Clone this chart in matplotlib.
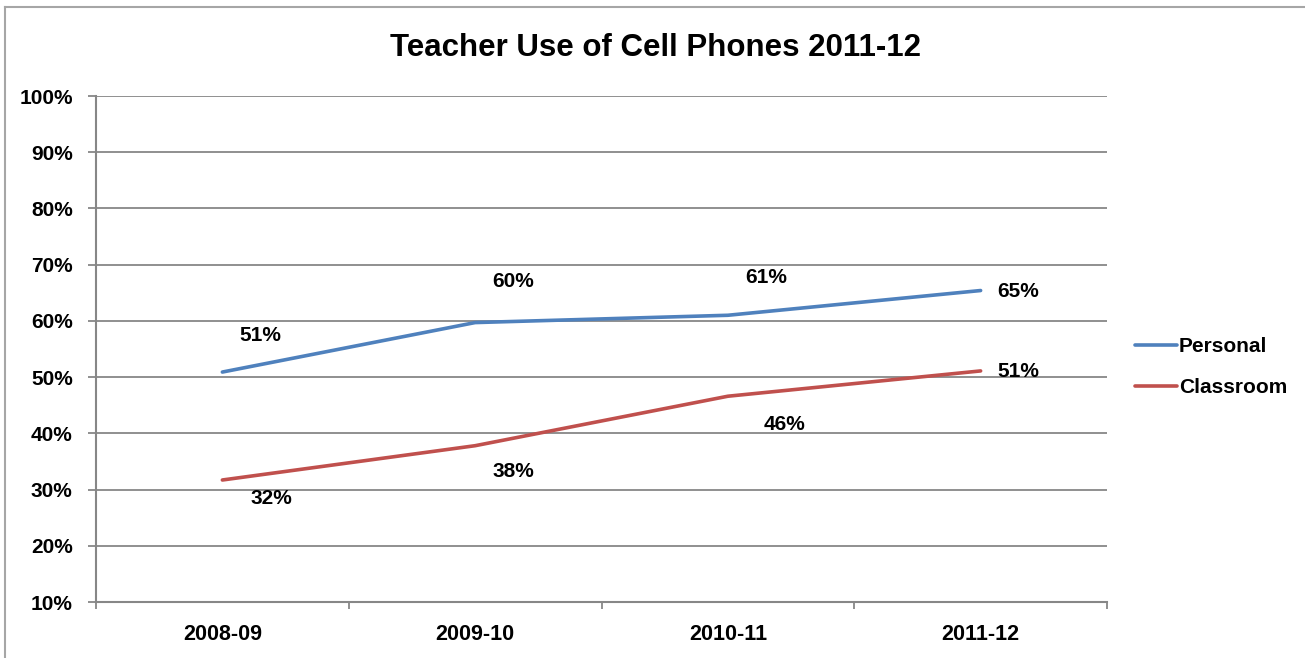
import matplotlib
matplotlib.use("Agg")
import matplotlib.pyplot as plt
from matplotlib.lines import Line2D

categories = ["2008-09", "2009-10", "2010-11", "2011-12"]
personal = [50.9, 59.7, 61.0, 65.4]
classroom = [31.7, 37.8, 46.6, 51.1]
personal_labels = ["51%", "60%", "61%", "65%"]
classroom_labels = ["32%", "38%", "46%", "51%"]
yticks = [10, 20, 30, 40, 50, 60, 70, 80, 90, 100]

plt.rcParams['font.family'] = ['Liberation Sans', 'DejaVu Sans']
plt.rcParams['font.weight'] = 'bold'

FS = 15

fig = plt.figure(figsize=(13.05, 6.58), dpi=100)
ax = fig.add_axes([96/1305, 56/658, (1107-96)/1305, (602-96)/658])

blue = "#4F81BD"
red = "#C0504D"
grid = "#878787"

x = list(range(len(categories)))
ax.plot(x, personal, color=blue, lw=2.6, solid_capstyle='round', label="Personal")
ax.plot(x, classroom, color=red, lw=2.6, solid_capstyle='round', label="Classroom")

ax.set_xlim(-0.5, 3.5)
ax.set_ylim(10, 100)
ax.set_yticks(yticks)
ax.set_yticklabels([f"{v}%" for v in yticks])
ax.yaxis.grid(True, color=grid, lw=1.3)
ax.set_axisbelow(True)

ax.set_xticks([-0.5, 0.5, 1.5, 2.5, 3.5])
ax.set_xticklabels([])
ax.set_xticks(x, minor=True)
ax.set_xticklabels(categories, minor=True)
ax.tick_params(axis='x', which='minor', length=0, pad=16, labelsize=15.5)
ax.tick_params(axis='x', which='major', length=5.2, width=1.3, color=grid, direction='out')
ax.tick_params(axis='y', length=5.8, width=1.3, color=grid, direction='out', pad=11, labelsize=FS)
for lbl in ax.get_yticklabels() + ax.get_xticklabels(minor=True):
    lbl.set_fontweight('bold')

for s in ['top', 'right']:
    ax.spines[s].set_visible(False)
for s in ['left', 'bottom']:
    ax.spines[s].set_color(grid)
    ax.spines[s].set_linewidth(1.5)

p_off = [(38, 37), (38, 41), (38, 38), (38, -1)]
c_off = [(49, -19), (38, -26), (57, -28), (38, -1)]
for i in x:
    ax.annotate(personal_labels[i], (i, personal[i]), xytext=p_off[i], textcoords='offset pixels',
                ha='center', va='center', fontsize=FS, fontweight='bold')
    ax.annotate(classroom_labels[i], (i, classroom[i]), xytext=c_off[i], textcoords='offset pixels',
                ha='center', va='center', fontsize=FS, fontweight='bold')

fig.text(655/1305, 1 - 48/658, "Teacher Use of Cell Phones 2011-12", ha='center', va='center',
         fontsize=22.5, fontweight='bold')

leg = fig.legend(handles=ax.get_lines(), loc='upper left', bbox_to_anchor=(1135/1305, 1 - 337/658),
                 frameon=False, handlelength=2.0, handletextpad=0.1, labelspacing=1.05,
                 borderpad=0, borderaxespad=0,
                 prop={'size': FS, 'weight': 'bold'})

fig.add_artist(Line2D([5/1305, 5/1305], [0, 1 - 7/658], color="#A6A6A6", lw=1.5))
fig.add_artist(Line2D([5/1305, 1], [1 - 7/658, 1 - 7/658], color="#A6A6A6", lw=1.5))

fig.savefig("out.png", dpi=100, facecolor='white')
